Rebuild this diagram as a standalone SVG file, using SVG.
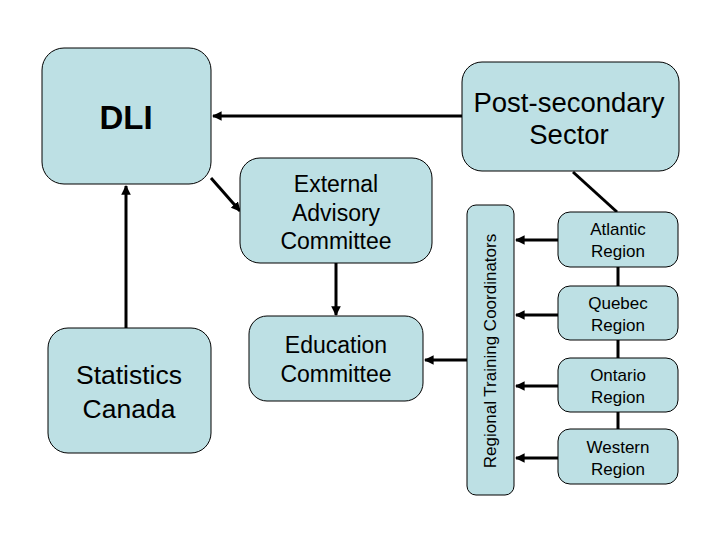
<svg xmlns="http://www.w3.org/2000/svg" width="720" height="540" viewBox="0 0 720 540">
<defs>
<style>
.box{fill:#BDE0E4;stroke:#000;stroke-width:1}
text{font-family:"Liberation Sans",Arial,sans-serif;fill:#000;text-anchor:middle}
.c{stroke:#000;stroke-width:3;fill:none}
</style>
<marker id="ah" viewBox="0 0 10 10" refX="9" refY="5" markerWidth="3.2" markerHeight="3.2" orient="auto" markerUnits="strokeWidth">
<path d="M0,0 L10,5 L0,10 z" fill="#000"/>
</marker>
</defs>
<rect width="720" height="540" fill="#fff"/>
<g id="connectors">
<line class="c" x1="462" y1="116" x2="213" y2="116" marker-end="url(#ah)"/>
<line class="c" x1="211" y1="178" x2="240" y2="211" marker-end="url(#ah)"/>
<line class="c" x1="126" y1="328" x2="126" y2="186" marker-end="url(#ah)"/>
<line class="c" x1="336" y1="263" x2="336" y2="315" marker-end="url(#ah)"/>
<line class="c" x1="467" y1="360" x2="425" y2="360" marker-end="url(#ah)"/>
<line class="c" x1="573" y1="172" x2="617" y2="212"/>
<line class="c" x1="618" y1="267" x2="618" y2="429"/>
<line class="c" x1="558" y1="240" x2="516" y2="240" marker-end="url(#ah)"/>
<line class="c" x1="558" y1="315" x2="516" y2="315" marker-end="url(#ah)"/>
<line class="c" x1="558" y1="386" x2="516" y2="386" marker-end="url(#ah)"/>
<line class="c" x1="558" y1="458" x2="516" y2="458" marker-end="url(#ah)"/>
</g>
<g id="dli">
<rect class="box" x="42" y="48" width="169" height="136" rx="22"/>
<text x="126" y="129" font-size="33" font-weight="bold">DLI</text>
</g>
<g id="postsecondary">
<rect class="box" x="462" y="62" width="217" height="109" rx="20"/>
<text x="569" y="112" font-size="27.5">Post-secondary</text>
<text x="569" y="144" font-size="27.5">Sector</text>
</g>
<g id="external">
<rect class="box" x="240" y="158" width="192" height="105" rx="20"/>
<text x="336" y="192" font-size="23">External</text>
<text x="336" y="221" font-size="23">Advisory</text>
<text x="336" y="249" font-size="23">Committee</text>
</g>
<g id="education">
<rect class="box" x="249" y="316" width="174" height="85" rx="18"/>
<text x="336" y="353" font-size="23">Education</text>
<text x="336" y="382" font-size="23">Committee</text>
</g>
<g id="statscan">
<rect class="box" x="48" y="328" width="163" height="125" rx="20"/>
<text x="129" y="384" font-size="26.5">Statistics</text>
<text x="129" y="418" font-size="26.5">Canada</text>
</g>
<g id="rtc">
<rect class="box" x="467" y="205" width="47" height="290" rx="9"/>
<text transform="translate(496,351) rotate(-90)" font-size="17">Regional Training Coordinators</text>
</g>
<g id="atlantic">
<rect class="box" x="558" y="212" width="120" height="55" rx="12"/>
<text x="618" y="235" font-size="17">Atlantic</text>
<text x="618" y="257" font-size="17">Region</text>
</g>
<g id="quebec">
<rect class="box" x="558" y="286" width="120" height="54" rx="12"/>
<text x="618" y="309" font-size="17">Quebec</text>
<text x="618" y="331" font-size="17">Region</text>
</g>
<g id="ontario">
<rect class="box" x="558" y="358" width="120" height="54" rx="12"/>
<text x="618" y="381" font-size="17">Ontario</text>
<text x="618" y="403" font-size="17">Region</text>
</g>
<g id="western">
<rect class="box" x="558" y="429" width="120" height="55" rx="12"/>
<text x="618" y="453" font-size="17">Western</text>
<text x="618" y="475" font-size="17">Region</text>
</g>
</svg>
